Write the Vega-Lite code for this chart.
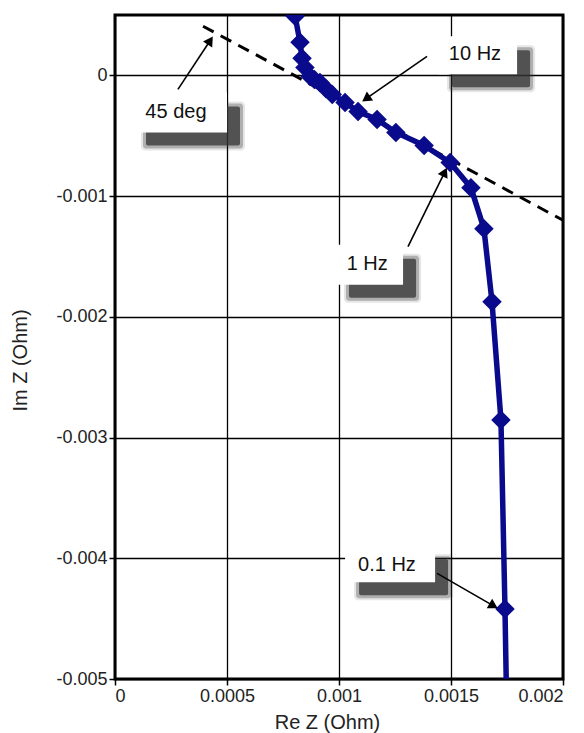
{
  "$schema": "https://vega.github.io/schema/vega-lite/v6.json",
  "width": 448,
  "height": 664,
  "autosize": {"type": "none"},
  "padding": {"left": 115, "top": 15, "right": 21, "bottom": 54},
  "background": "white",
  "config": {
    "view": {"stroke": "black", "strokeWidth": 3},
    "axis": {
      "domain": false,
      "grid": true,
      "gridColor": "black",
      "gridWidth": 1.3,
      "gridOpacity": 1,
      "tickColor": "black",
      "tickSize": 6,
      "tickWidth": 1.5,
      "labelFont": "Liberation Sans",
      "labelFontSize": 18,
      "labelColor": "#222",
      "labelPadding": 2,
      "titleFont": "Liberation Sans",
      "titleFontSize": 20,
      "titleFontWeight": "normal",
      "titleColor": "#222"
    }
  },
  "datasets": {
    "curve": [
      {"i": 1, "re": 0.000804, "im": 0.000490, "m": 1},
      {"i": 2, "re": 0.000826, "im": 0.000274, "m": 1},
      {"i": 3, "re": 0.000835, "im": 0.000141, "m": 1},
      {"i": 4, "re": 0.000848, "im": 0.000066, "m": 1},
      {"i": 5, "re": 0.000871, "im": -0.000010, "m": 1},
      {"i": 6, "re": 0.000890, "im": -0.000035, "m": 1},
      {"i": 7, "re": 0.000915, "im": -0.000060, "m": 1},
      {"i": 8, "re": 0.000942, "im": -0.000110, "m": 1},
      {"i": 9, "re": 0.000970, "im": -0.000158, "m": 1},
      {"i": 10, "re": 0.001027, "im": -0.000224, "m": 1},
      {"i": 11, "re": 0.001085, "im": -0.000299, "m": 1},
      {"i": 12, "re": 0.001170, "im": -0.000365, "m": 1},
      {"i": 13, "re": 0.001254, "im": -0.000473, "m": 1},
      {"i": 14, "re": 0.001380, "im": -0.000581, "m": 1},
      {"i": 15, "re": 0.001496, "im": -0.000722, "m": 1},
      {"i": 16, "re": 0.001589, "im": -0.000930, "m": 1},
      {"i": 17, "re": 0.001647, "im": -0.001270, "m": 1},
      {"i": 18, "re": 0.001683, "im": -0.001875, "m": 1},
      {"i": 19, "re": 0.001723, "im": -0.002855, "m": 1},
      {"i": 20, "re": 0.001741, "im": -0.004420, "m": 1},
      {"i": 21, "re": 0.001747, "im": -0.005060, "m": 0}
    ],
    "guide": [
      {"re": 0.000393, "im": 0.000407},
      {"re": 0.002, "im": -0.0012}
    ],
    "notes": [
      {"label": "45 deg", "x1": 0.0000759, "x2": 0.0005, "y1": -0.000141, "y2": -0.000473, "tx": 0.000272, "ty": -0.000307, "ax": 0.000281, "ay": -0.000116, "bx": 0.000425, "by": 0.000289},
      {"label": "10 Hz", "x1": 0.001442, "x2": 0.001795, "y1": 0.000324, "y2": 0.0000083, "tx": 0.001607, "ty": 0.000174, "ax": 0.001393, "ay": 0.000158, "bx": 0.001121, "by": -0.000193},
      {"label": "1 Hz", "x1": 0.000982, "x2": 0.001286, "y1": -0.001403, "y2": -0.001734, "tx": 0.001126, "ty": -0.00156, "ax": 0.001308, "ay": -0.001419, "bx": 0.001472, "by": -0.000801},
      {"label": "0.1 Hz", "x1": 0.001027, "x2": 0.001429, "y1": -0.003892, "y2": -0.004199, "tx": 0.001214, "ty": -0.004058, "ax": 0.001438, "ay": -0.004125, "bx": 0.00169, "by": -0.004394}
    ]
  },
  "layer": [
    {
      "data": {"name": "notes"},
      "mark": {"type": "rect", "color": "#333", "opacity": 0.12, "cornerRadius": 4, "xOffset": 9, "x2Offset": 18, "yOffset": 9, "y2Offset": 18},
      "encoding": {
        "x": {"field": "x1", "type": "quantitative", "scale": {"domain": [0, 0.002], "nice": false, "zero": false},
          "axis": {"values": [0, 0.0005, 0.001, 0.0015, 0.002], "labelExpr": "format(datum.value, '~g')", "title": "Re Z (Ohm)", "titleX": 212, "titleY": 43, "titleBaseline": "middle"}},
        "x2": {"field": "x2"},
        "y": {"field": "y1", "type": "quantitative", "scale": {"domain": [-0.005, 0.0005], "nice": false, "zero": false},
          "axis": {"values": [0, -0.001, -0.002, -0.003, -0.004, -0.005], "labelExpr": "replace(format(datum.value, '~g'), '\u2212', '-')", "title": "Im Z (Ohm)", "titleX": -95, "titleY": 345, "titleAngle": -90, "titleAlign": "center", "titleBaseline": "middle"}},
        "y2": {"field": "y2"}
      }
    },
    {
      "data": {"name": "notes"},
      "mark": {"type": "rect", "color": "#333", "opacity": 0.3, "cornerRadius": 3, "xOffset": 11, "x2Offset": 16, "yOffset": 11, "y2Offset": 16},
      "encoding": {
        "x": {"field": "x1", "type": "quantitative"},
        "x2": {"field": "x2"},
        "y": {"field": "y1", "type": "quantitative"},
        "y2": {"field": "y2"}
      }
    },
    {
      "data": {"name": "notes"},
      "mark": {"type": "rect", "color": "#333", "opacity": 0.75, "cornerRadius": 2, "xOffset": 14, "x2Offset": 13, "yOffset": 14, "y2Offset": 13},
      "encoding": {
        "x": {"field": "x1", "type": "quantitative"},
        "x2": {"field": "x2"},
        "y": {"field": "y1", "type": "quantitative"},
        "y2": {"field": "y2"}
      }
    },
    {
      "data": {"name": "notes"},
      "mark": {"type": "rect", "color": "white", "opacity": 1},
      "encoding": {
        "x": {"field": "x1", "type": "quantitative"},
        "x2": {"field": "x2"},
        "y": {"field": "y1", "type": "quantitative"},
        "y2": {"field": "y2"}
      }
    },
    {
      "data": {"name": "guide"},
      "mark": {"type": "line", "color": "black", "strokeWidth": 3, "strokeDash": [12, 8], "clip": true},
      "encoding": {
        "x": {"field": "re", "type": "quantitative"},
        "y": {"field": "im", "type": "quantitative"}
      }
    },
    {
      "data": {"name": "curve"},
      "mark": {"type": "line", "color": "#0a0a8c", "strokeWidth": 5.5, "clip": true},
      "encoding": {
        "x": {"field": "re", "type": "quantitative"},
        "y": {"field": "im", "type": "quantitative"},
        "order": {"field": "i"}
      }
    },
    {
      "data": {"name": "curve"},
      "transform": [{"filter": "datum.m == 1"}],
      "mark": {"type": "point", "shape": "diamond", "filled": true, "color": "#0a0a8c", "opacity": 1, "size": 380, "clip": true},
      "encoding": {
        "x": {"field": "re", "type": "quantitative"},
        "y": {"field": "im", "type": "quantitative"}
      }
    },
    {
      "data": {"name": "notes"},
      "mark": {"type": "rule", "color": "black", "strokeWidth": 1.6},
      "encoding": {
        "x": {"field": "ax", "type": "quantitative"},
        "y": {"field": "ay", "type": "quantitative"},
        "x2": {"field": "bx"},
        "y2": {"field": "by"}
      }
    },
    {
      "data": {"name": "notes"},
      "transform": [{"filter": "datum.label == '45 deg'"}],
      "mark": {"type": "point", "shape": "triangle-up", "filled": true, "color": "black", "opacity": 1, "size": 120, "angle": 33},
      "encoding": {
        "x": {"field": "bx", "type": "quantitative"},
        "y": {"field": "by", "type": "quantitative"}
      }
    },
    {
      "data": {"name": "notes"},
      "transform": [{"filter": "datum.label == '10 Hz'"}],
      "mark": {"type": "point", "shape": "triangle-up", "filled": true, "color": "black", "opacity": 1, "size": 120, "angle": 235},
      "encoding": {
        "x": {"field": "bx", "type": "quantitative"},
        "y": {"field": "by", "type": "quantitative"}
      }
    },
    {
      "data": {"name": "notes"},
      "transform": [{"filter": "datum.label == '1 Hz'"}],
      "mark": {"type": "point", "shape": "triangle-up", "filled": true, "color": "black", "opacity": 1, "size": 120, "angle": 26},
      "encoding": {
        "x": {"field": "bx", "type": "quantitative"},
        "y": {"field": "by", "type": "quantitative"}
      }
    },
    {
      "data": {"name": "notes"},
      "transform": [{"filter": "datum.label == '0.1 Hz'"}],
      "mark": {"type": "point", "shape": "triangle-up", "filled": true, "color": "black", "opacity": 1, "size": 120, "angle": 120},
      "encoding": {
        "x": {"field": "bx", "type": "quantitative"},
        "y": {"field": "by", "type": "quantitative"}
      }
    },
    {
      "data": {"name": "notes"},
      "mark": {"type": "text", "font": "Liberation Sans", "fontSize": 20, "color": "#111", "align": "center", "baseline": "middle"},
      "encoding": {
        "x": {"field": "tx", "type": "quantitative"},
        "y": {"field": "ty", "type": "quantitative"},
        "text": {"field": "label"}
      }
    }
  ]
}
